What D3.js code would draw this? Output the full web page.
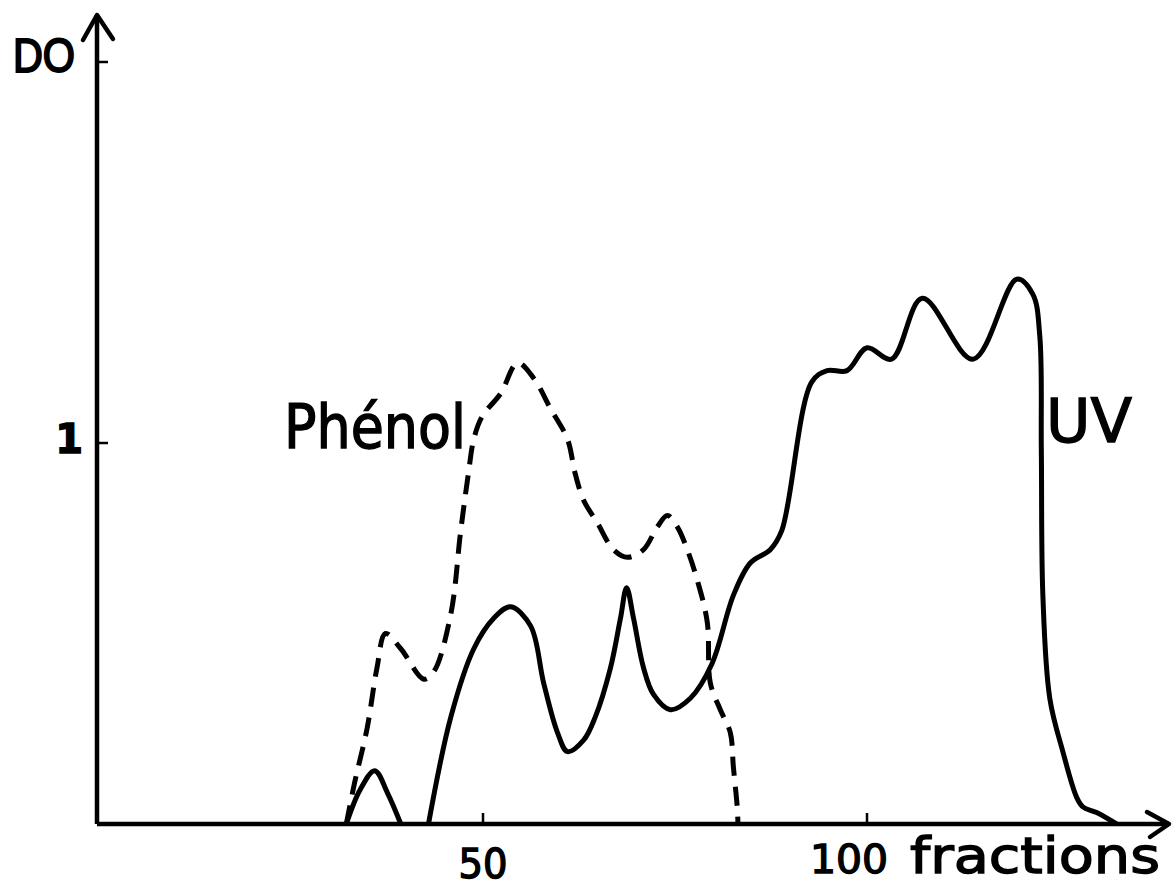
<!DOCTYPE html>
<html>
<head>
<meta charset="utf-8">
<script src="https://cdn.jsdelivr.net/npm/d3@7"></script>
<style>
  body { margin: 0; background: #fff; }
  svg text { font-family: "DejaVu Sans", "Liberation Sans", sans-serif; fill: #000; stroke: #000; stroke-width: 1.4px; }
</style>
</head>
<body>
<div id="chart"></div>
<script>
// Data (fraction number vs optical density)
const uvBumpFractions = [32.2, 34.0, 35.9, 37.6, 39.3];
const uvBumpValues    = [0,    0.09, 0.14, 0.08, 0];

const uvFractions = [42.9, 45.8, 48.8, 51.4, 53.6, 56.2, 57.9, 59.7, 61.0, 63.1, 64.6, 66.6, 67.9, 68.7, 69.6, 70.9, 72.2, 74.4, 77.0, 79.8, 82.6, 84.8, 87.4, 88.9, 92.8, 94.8, 97.4, 100.0, 103.2, 107.2, 113.8, 119.5, 121.6, 122.5, 122.7, 122.9, 123.8, 125.5, 127.3, 128.1, 129.9, 132.5];
const uvValues    = [0,    0.28, 0.46, 0.54, 0.57, 0.52, 0.37, 0.24, 0.19, 0.22, 0.28, 0.41, 0.54, 0.62, 0.54, 0.41, 0.34, 0.30, 0.33, 0.42, 0.60, 0.685, 0.72, 0.77, 1.16, 1.19, 1.19, 1.25,  1.22,  1.38,  1.22,  1.43,  1.39,  1.28,  0.98,  0.60,  0.33,  0.19,  0.07,  0.045, 0.03,  0];

const phenolFractions = [32.2, 33.3, 34.9, 36.2, 37.3, 39.3, 42.3, 43.6, 45.8, 47.1, 48.1, 48.8, 49.9, 52.3, 54.5, 56.6, 58.8, 61.0, 62.0, 63.1, 64.9, 67.0, 68.8, 70.9, 72.7, 74.0, 75.3, 76.6, 77.9, 79.2, 79.6, 80.9, 82.2, 82.6, 83.1, 83.2];
const phenolValues    = [0,    0.11, 0.25, 0.41, 0.50, 0.46, 0.38, 0.40, 0.55, 0.77, 0.92, 1.01, 1.07, 1.13, 1.21, 1.17, 1.09, 1.01, 0.92, 0.85, 0.79, 0.72, 0.70, 0.72, 0.78, 0.81, 0.78, 0.72, 0.64, 0.53, 0.37, 0.30, 0.24, 0.15, 0.045, 0];

const xTicks = [50, 100];
const yTicks = [1, 2];
const yTickLabels = ["1", ""];

// Size
const W = 1173, H = 889;
const x = d3.scaleLinear().domain([0, 100]).range([99, 867]);
const y = d3.scaleLinear().domain([0, 1]).range([824, 443]);

const svg = d3.select("#chart")
  .append("svg")
  .attr("width", W)
  .attr("height", H);

const ink = "#000";
const axisX0 = 97;

// Axes (hand-drawn style with arrows)
svg.append("line")
  .attr("x1", axisX0).attr("y1", y(0))
  .attr("x2", axisX0).attr("y2", 15)
  .attr("stroke", ink).attr("stroke-width", 4.5);
svg.append("path")
  .attr("d", `M${axisX0 - 14},40 L${axisX0},15 L${axisX0 + 16},39`)
  .attr("fill", "none").attr("stroke", ink).attr("stroke-width", 4.5)
  .attr("stroke-linecap", "round").attr("stroke-linejoin", "round");

svg.append("line")
  .attr("x1", axisX0).attr("y1", y(0))
  .attr("x2", 1169).attr("y2", y(0))
  .attr("stroke", ink).attr("stroke-width", 4.5);
svg.append("path")
  .attr("d", `M1147,${y(0) - 12} L1169,${y(0)} L1150,${y(0) + 13}`)
  .attr("fill", "none").attr("stroke", ink).attr("stroke-width", 4.5)
  .attr("stroke-linecap", "round").attr("stroke-linejoin", "round");

// Ticks
svg.selectAll(".xtick")
  .data(xTicks)
  .join("line")
  .attr("class", "xtick")
  .attr("x1", d => x(d)).attr("x2", d => x(d))
  .attr("y1", y(0)).attr("y2", y(0) - 11)
  .attr("stroke", ink).attr("stroke-width", 2.5);

svg.selectAll(".ytick")
  .data(yTicks)
  .join("line")
  .attr("class", "ytick")
  .attr("x1", axisX0).attr("x2", axisX0 + 11)
  .attr("y1", d => y(d)).attr("y2", d => y(d))
  .attr("stroke", ink).attr("stroke-width", 2.5);

svg.selectAll(".ylab")
  .data(yTicks)
  .join("text")
  .attr("class", "ylab")
  .attr("x", 83).attr("y", d => y(d) + 10)
  .attr("text-anchor", "end")
  .style("font-size", "40px")
  .style("font-weight", "bold")
  .text((d, i) => yTickLabels[i]);

svg.append("text")
  .attr("x", x(50)).attr("y", 878)
  .attr("text-anchor", "middle")
  .style("font-size", "40px")
  .attr("textLength", 49)
  .attr("lengthAdjust", "spacingAndGlyphs")
  .text("50");

svg.append("text")
  .attr("x", 810).attr("y", 873)
  .style("font-size", "39px")
  .attr("textLength", 78)
  .attr("lengthAdjust", "spacingAndGlyphs")
  .text("100");

svg.append("text")
  .attr("x", 910).attr("y", 873)
  .style("font-size", "50px")
  .attr("textLength", 250)
  .attr("lengthAdjust", "spacingAndGlyphs")
  .text("fractions");

svg.append("text")
  .attr("x", 13).attr("y", 72)
  .style("font-family", "'Liberation Sans', sans-serif")
  .style("font-size", "48px")
  .style("stroke-width", "2px")
  .attr("textLength", 62)
  .attr("lengthAdjust", "spacingAndGlyphs")
  .text("DO");

// Curves
const line = d3.line()
  .x(d => x(d[0]))
  .y(d => y(d[1]))
  .curve(d3.curveCatmullRom.alpha(0.5));

const zip = (a, b) => a.map((v, i) => [v, b[i]]);

svg.append("path")
  .datum(zip(phenolFractions, phenolValues))
  .attr("d", line)
  .attr("fill", "none")
  .attr("stroke", ink)
  .attr("stroke-width", 5)
  .attr("stroke-dasharray", "19,11");

[zip(uvBumpFractions, uvBumpValues), zip(uvFractions, uvValues)].forEach(pts => {
  svg.append("path")
    .datum(pts)
    .attr("d", line)
    .attr("fill", "none")
    .attr("stroke", ink)
    .attr("stroke-width", 5)
    .attr("stroke-linejoin", "round");
});

// Series labels
svg.append("text")
  .attr("x", 284).attr("y", 448)
  .style("font-size", "60px")
  .attr("textLength", 182)
  .attr("lengthAdjust", "spacingAndGlyphs")
  .text("Phénol");

svg.append("text")
  .attr("x", 1046).attr("y", 442)
  .style("font-size", "61px")
  .attr("textLength", 86)
  .attr("lengthAdjust", "spacingAndGlyphs")
  .text("UV");
</script>
</body>
</html>
